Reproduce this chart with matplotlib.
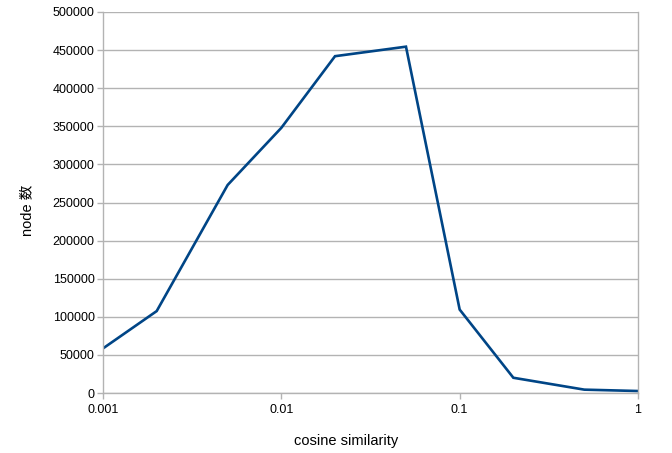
import matplotlib
matplotlib.use("Agg")
import matplotlib.pyplot as plt
from matplotlib.ticker import FixedLocator, FixedFormatter, NullLocator

plt.rcParams["font.family"] = ["Liberation Sans", "Noto Sans CJK JP", "DejaVu Sans"]

similarity = [0.001, 0.002, 0.005, 0.01, 0.02, 0.05, 0.1, 0.2, 0.5, 1]
node_counts = [58500, 107500, 273000, 348000, 442000, 454500, 109500, 20000, 4400, 2600]

x_ticks = [0.001, 0.01, 0.1, 1]
x_tick_labels = ["0.001", "0.01", "0.1", "1"]
y_ticks = list(range(0, 500001, 50000))

GRID = "#b3b3b3"
LINE = "#004586"

fig = plt.figure(figsize=(6.72, 4.53), dpi=100)
ax = fig.add_axes([103 / 672, 60 / 453, 535 / 672, 381 / 453])

ax.plot(similarity, node_counts, color=LINE, linewidth=1.9, solid_joinstyle="miter")

ax.set_xscale("log")
ax.set_xlim(0.001, 1)
ax.set_ylim(0, 500000)
ax.xaxis.set_major_locator(FixedLocator(x_ticks))
ax.xaxis.set_major_formatter(FixedFormatter(x_tick_labels))
ax.xaxis.set_minor_locator(NullLocator())
ax.set_yticks(y_ticks)
ax.set_yticklabels([str(v) for v in y_ticks])

ax.yaxis.grid(True, color=GRID, linewidth=1.0)
ax.set_axisbelow(True)
for side in ("left", "bottom", "right"):
    ax.spines[side].set_color(GRID)
    ax.spines[side].set_linewidth(1.0)
ax.spines["top"].set_visible(False)

ax.tick_params(axis="both", colors=GRID, labelcolor="#000000", labelsize=9,
               length=4, width=1.0, direction="out")
ax.tick_params(axis="x", pad=4)
ax.tick_params(axis="y", pad=2)

fig.text(346 / 672, 1 - 441 / 453, "cosine similarity", ha="center", va="center", fontsize=10.5)
fig.text(27 / 672, 1 - 210 / 453, "node 数", ha="center", va="center", rotation=90, fontsize=10.5)

fig.savefig("out.png", dpi=100)
